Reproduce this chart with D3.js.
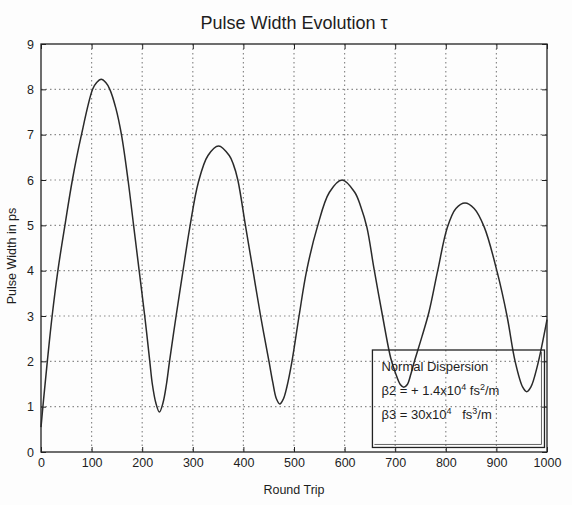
<!DOCTYPE html>
<html>
<head>
<meta charset="utf-8">
<script src="https://cdn.jsdelivr.net/npm/d3@7/dist/d3.min.js"></script>
<style>
body { margin: 0; background: #fdfdfd; }
text { font-family: "Liberation Sans", Arial, sans-serif; fill: #1e1e1e; }
</style>
</head>
<body>
<svg id="chart" width="572" height="505"></svg>
<script>
// values
var roundTrip = [0, 5, 12.5, 22, 34, 48, 62, 79, 102, 110, 119, 128, 136, 148, 159, 172, 183, 194, 205, 215, 220, 227, 234,
                 241, 248, 254, 267, 280, 294, 311, 330, 351, 372, 380, 389, 404, 419, 434, 451, 458, 465, 472,
                 479, 486, 496, 510, 525, 546, 570, 595, 620, 632, 644, 658, 675, 691, 700, 710, 717,
                 724, 731, 738, 753, 767, 784, 803, 820, 838, 856, 876, 902, 921, 937, 952, 960,
                 968, 981, 1000];
var pulseWidth = [0.55, 1.15, 2.0, 3.0, 4.05, 5.05, 6.0, 6.95, 8.0, 8.15, 8.22, 8.15, 8.0, 7.58, 7.0, 6.0, 5.0, 4.0, 3.0, 2.0, 1.5, 1.08, 0.88,
                  1.08, 1.5, 2.0, 3.0, 3.95, 4.95, 5.95, 6.54, 6.75, 6.54, 6.35, 6.0, 5.0, 4.0, 3.0, 1.97, 1.54, 1.18, 1.06,
                  1.17, 1.44, 2.0, 3.0, 4.0, 4.96, 5.73, 6.0, 5.73, 5.41, 4.96, 4.05, 3.0, 2.08, 1.76, 1.49, 1.43,
                  1.49, 1.72, 2.0, 2.55, 3.1, 4.0, 4.95, 5.37, 5.49, 5.37, 4.96, 3.95, 3.0, 2.0, 1.43, 1.33,
                  1.43, 1.9, 2.92];
var xTicks = [0, 100, 200, 300, 400, 500, 600, 700, 800, 900, 1000];
var yTicks = [0, 1, 2, 3, 4, 5, 6, 7, 8, 9];
var legendLines = [
    [{t: "Normal Dispersion"}],
    [{t: "\u03b22 = + 1.4x10"}, {t: "4", sup: true}, {t: " fs"}, {t: "2", sup: true}, {t: "/m"}],
    [{t: "\u03b23 = 30x10"}, {t: "4", sup: true}, {t: "\u00a0\u00a0\u00a0fs"}, {t: "3", sup: true}, {t: "/m"}]
];

var margin = {top: 44, right: 25, bottom: 53, left: 41};
var width = 572 - margin.left - margin.right;
var height = 505 - margin.top - margin.bottom;

var svg = d3.select("#chart");
var g = svg.append("g")
    .attr("transform", "translate(" + margin.left + "," + margin.top + ")");

var x = d3.scaleLinear().domain([0, 1000]).range([0, width]);
var y = d3.scaleLinear().domain([0, 9]).range([height, 0]);

//dotted grid
g.selectAll(".vgrid")
    .data(xTicks.slice(1, -1))
    .enter().append("line")
    .attr("x1", function(d) { return x(d); })
    .attr("x2", function(d) { return x(d); })
    .attr("y1", 0).attr("y2", height)
    .attr("stroke", "#8a8a8a")
    .attr("stroke-width", 1.2)
    .attr("stroke-dasharray", "1.5,3");
g.selectAll(".hgrid")
    .data(yTicks.slice(1, -1))
    .enter().append("line")
    .attr("y1", function(d) { return y(d); })
    .attr("y2", function(d) { return y(d); })
    .attr("x1", 0).attr("x2", width)
    .attr("stroke", "#8a8a8a")
    .attr("stroke-width", 1.2)
    .attr("stroke-dasharray", "1.5,3");

//axes with ticks pointing inward
function styleAxis(sel) {
    sel.select(".domain").remove();
    sel.selectAll("line").attr("stroke", "#222");
    sel.selectAll("text").style("font-size", "12.5px").attr("fill", "#1e1e1e");
}
g.append("g")
    .attr("transform", "translate(0," + height + ")")
    .call(d3.axisBottom(x).tickValues(xTicks).tickFormat(d3.format("d"))
          .tickSizeInner(-5).tickSizeOuter(0).tickPadding(6))
    .call(styleAxis);
g.append("g")
    .call(d3.axisTop(x).tickValues(xTicks).tickSizeInner(-5).tickSizeOuter(0).tickFormat(""))
    .call(styleAxis);
g.append("g")
    .call(d3.axisLeft(y).tickValues(yTicks).tickSizeInner(-5).tickSizeOuter(0).tickPadding(7))
    .call(styleAxis);
g.append("g")
    .attr("transform", "translate(" + width + ",0)")
    .call(d3.axisRight(y).tickValues(yTicks).tickSizeInner(-5).tickSizeOuter(0).tickFormat(""))
    .call(styleAxis);

//frame
g.append("rect")
    .attr("width", width).attr("height", height)
    .attr("fill", "none")
    .attr("stroke", "#222")
    .attr("stroke-width", 1.3);

//the curve
var line = d3.line()
    .x(function(d, i) { return x(roundTrip[i]); })
    .y(function(d) { return y(d); })
    .curve(d3.curveCatmullRom.alpha(0.5));
g.append("path")
    .datum(pulseWidth)
    .attr("fill", "none")
    .attr("stroke", "#2a2a2a")
    .attr("stroke-width", 1.5)
    .attr("d", line);

//legend box
var lg = g.append("g")
    .attr("transform", "translate(" + x(655) + "," + y(2.25) + ")");
var lw = x(995) - x(655), lh = y(0.1) - y(2.25);
lg.append("rect")
    .attr("width", lw).attr("height", lh)
    .attr("fill", "none")
    .attr("stroke", "#222")
    .attr("stroke-width", 1.3);
lg.append("polyline")
    .attr("points", [[2, lh - 3], [lw - 3, lh - 3], [lw - 3, 2]].join(" "))
    .attr("fill", "none")
    .attr("stroke", "#555")
    .attr("stroke-width", 0.9);
lg.selectAll(".ltext")
    .data(legendLines)
    .enter().append("text")
    .attr("x", 9)
    .attr("y", function(d, i) { return 21 + i * 24; })
    .style("font-size", "13px")
    .each(function(parts) {
        var t = d3.select(this);
        var raised = false;
        parts.forEach(function(p) {
            var dy = 0;
            if (p.sup && !raised) { dy = -5; raised = true; }
            else if (!p.sup && raised) { dy = 5; raised = false; }
            t.append("tspan")
                .attr("dy", dy)
                .style("font-size", p.sup ? "9px" : null)
                .text(p.t);
        });
    });

//labels
svg.append("text")
    .attr("x", margin.left + width / 2)
    .attr("y", 29)
    .attr("text-anchor", "middle")
    .style("font-size", "18px")
    .text("Pulse Width Evolution \u03c4");
svg.append("text")
    .attr("x", margin.left + width / 2)
    .attr("y", 494)
    .attr("text-anchor", "middle")
    .style("font-size", "12.5px")
    .text("Round  Trip");
svg.append("text")
    .attr("transform", "translate(16," + (margin.top + height / 2 + 8) + ") rotate(-90)")
    .attr("text-anchor", "middle")
    .style("font-size", "12.5px")
    .text("Pulse  Width in ps");
</script>
</body>
</html>
